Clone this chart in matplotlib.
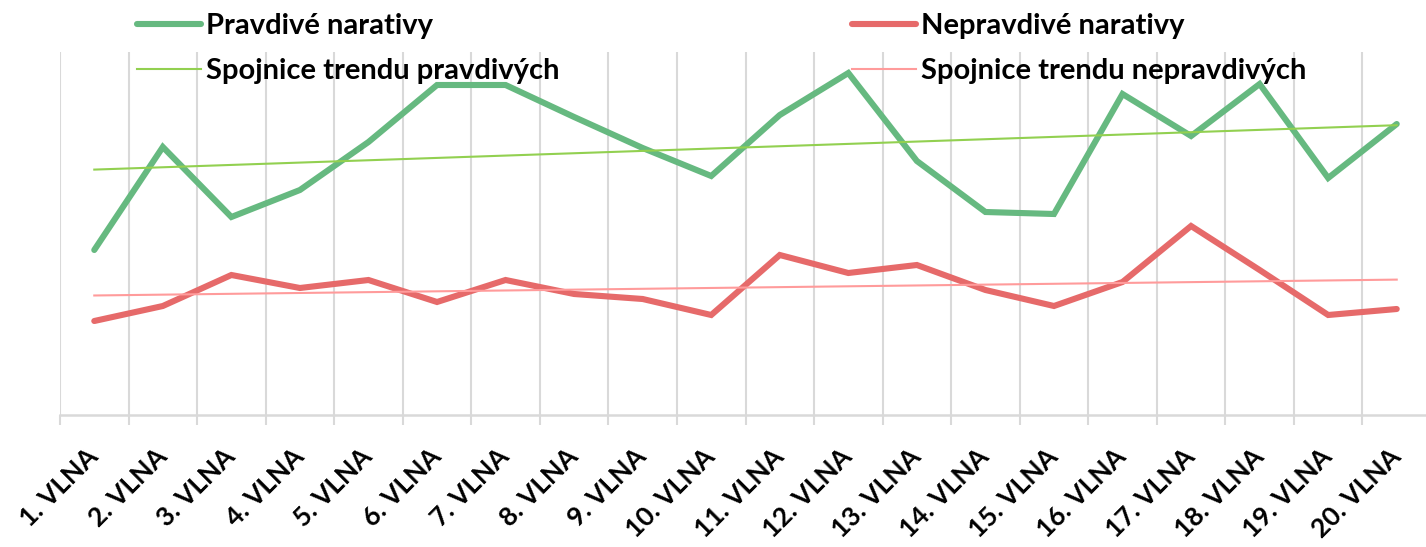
import numpy as np
import matplotlib.pyplot as plt
from matplotlib.ticker import FixedLocator

# data (arbitrary units)
vlny = [f"{i}. VLNA" for i in range(1, 21)]
pravdive = [16.5, 26.8, 19.8, 22.5, 27.3, 33.0, 33.0, 29.8, 26.7, 23.9,
            30.0, 34.2, 25.4, 20.3, 20.1, 32.1, 27.9, 33.1, 23.7, 29.1]
nepravdive = [9.4, 10.9, 14.0, 12.7, 13.5, 11.3, 13.5, 12.1, 11.6, 10.0,
              16.0, 14.2, 15.0, 12.5, 10.9, 13.3, 18.9, 14.5, 10.0, 10.6]

plt.rcParams['font.family'] = ['Lato', 'DejaVu Sans']

x = np.arange(1, len(vlny) + 1)

fig = plt.figure(figsize=(14.26, 5.47), dpi=100)
ax = fig.add_axes([60/1426, 132/547, 1371/1426, 363/547])

zelena = '#66b980'
cervena = '#e66a6a'

l1, = ax.plot(x, pravdive, color=zelena, lw=4.4, solid_capstyle='round',
              solid_joinstyle='miter', zorder=3, label='Pravdivé narativy')
l2, = ax.plot(x, nepravdive, color=cervena, lw=4.4, solid_capstyle='round',
              solid_joinstyle='miter', zorder=3, label='Nepravdivé narativy')

# linearni trendy
k1 = np.polyfit(x, pravdive, 1)
k2 = np.polyfit(x, nepravdive, 1)
t1, = ax.plot(x, np.polyval(k1, x), color='#92d050', lw=1.5, zorder=4,
              label='Spojnice trendu pravdivých')
t2, = ax.plot(x, np.polyval(k2, x), color='#ff9b9b', lw=1.5, zorder=4,
              label='Spojnice trendu nepravdivých')

ax.set_xlim(0.5, len(vlny) + 0.5)
ax.set_ylim(0, 36.3)

ax.set_xticks(x)
ax.set_xticklabels(vlny, rotation=45, ha='right', va='center',
                   rotation_mode='anchor', fontsize=19, fontweight='bold')
ax.tick_params(axis='x', which='major', length=0, pad=27)
ax.xaxis.set_minor_locator(FixedLocator(np.arange(0.5, len(vlny) + 1, 1)))
ax.tick_params(axis='x', which='minor', length=7, width=1.5, color='#d9d9d9')
ax.grid(axis='x', which='minor', color='#d9d9d9', lw=1.5, zorder=0)
ax.set_yticks([])

for s in ['top', 'right', 'left']:
    ax.spines[s].set_visible(False)
ax.spines['bottom'].set_color('#d9d9d9')
ax.spines['bottom'].set_linewidth(1.8)

leg_kw = dict(frameon=False, handlelength=2.2, handletextpad=0.17,
              labelspacing=0.66, borderpad=0, borderaxespad=0,
              prop={'weight': 'bold', 'size': 21})
lg1 = fig.legend([l1, t1], [l1.get_label(), t1.get_label()], loc='upper left',
                 bbox_to_anchor=(137/1426, 1 - 13/547), **leg_kw)
lg2 = fig.legend([l2, t2], [l2.get_label(), t2.get_label()], loc='upper left',
                 bbox_to_anchor=(852/1426, 1 - 13/547), **leg_kw)

fig.savefig('out.png', dpi=100)
